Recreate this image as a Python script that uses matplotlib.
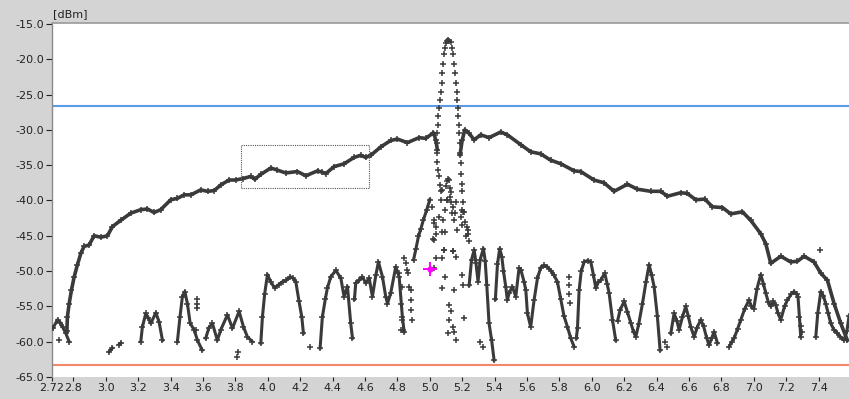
import numpy as np
import matplotlib
matplotlib.use("Agg")
import matplotlib.pyplot as plt
from matplotlib.patches import Rectangle

nan = np.nan

# ---- upper (max-hold) trace, frequency in GHz / level in dBm; NaN splits the trace
upper_x = [2.76, 2.763, 2.774, 2.788, 2.805, 2.825, 2.846, 2.866, 2.897, 2.928, 2.969, 3.01,
           3.041, 3.093, 3.154, 3.216, 3.257, 3.298, 3.339, 3.401, 3.442, 3.484, 3.525, 3.586,
           3.628, 3.669, 3.71, 3.761, 3.802, 3.844, 3.895, 3.92, 3.957, 4.019, 4.06, 4.111,
           4.183, 4.235, 4.307, 4.337, 4.358, 4.409, 4.471, 4.533, 4.574, 4.605, 4.636, 4.698,
           4.759, 4.8, 4.862, 4.934, 4.975, 5.023, 5.037, 5.047,
           nan,
           5.187, 5.2, 5.216, 5.243, 5.274, 5.315, 5.366, 5.438, 5.479, 5.562, 5.623, 5.685,
           5.747, 5.809, 5.891, 5.932, 6.014, 6.076, 6.138, 6.22, 6.282, 6.364, 6.426, 6.467,
           6.549, 6.59, 6.642, 6.698, 6.745, 6.807, 6.858, 6.93, 6.981, 7.043, 7.074, 7.105,
           7.167, 7.228, 7.27, 7.311, 7.372, 7.414, 7.455, 7.496, 7.537, 7.578]
upper_y = [-58.5, -56.5, -54.6, -52.7, -50.8, -49.1, -47.5, -46.5, -46.3, -45.0, -45.2, -45.0,
           -43.7, -42.8, -41.8, -41.3, -41.2, -41.7, -41.3, -39.9, -39.7, -39.2, -39.2, -38.5,
           -38.7, -38.6, -37.8, -37.1, -37.1, -36.9, -36.6, -37.0, -36.3, -35.4, -35.7, -36.1,
           -35.9, -36.5, -35.8, -36.0, -36.2, -35.2, -34.8, -33.9, -33.6, -33.9, -33.6, -32.4,
           -31.5, -31.3, -31.8, -31.1, -31.2, -30.4, -31.4, -32.8,
           nan,
           -33.5, -31.5, -30.0, -30.5, -31.4, -30.7, -31.1, -30.3, -30.7, -32.1, -33.1, -33.4,
           -34.3, -34.8, -35.8, -35.9, -37.1, -37.5, -38.7, -37.7, -38.4, -38.7, -38.7, -39.4,
           -38.9, -39.0, -39.9, -39.8, -40.9, -41.0, -41.9, -41.6, -42.8, -44.7, -46.1, -48.9,
           -47.9, -48.7, -48.6, -47.9, -48.7, -50.3, -51.3, -54.6, -57.4, -59.8]

# ---- lower (live) trace
lower_x = [2.673, 2.702, 2.72, 2.733, 2.753, 2.774, nan,
           3.021, 3.041, nan, 3.082, 3.093, nan,
           3.216, 3.226, 3.247, 3.262, 3.278, 3.309, 3.329, 3.35, nan,
           3.442, 3.458, 3.473, 3.488, 3.504, 3.521, 3.545, 3.566, 3.595, nan,
           3.617, 3.637, 3.658, 3.689, 3.71, 3.751, 3.782, 3.823, 3.85, 3.874, 3.905, nan,
           3.957, 3.967, 3.981, 3.998, 4.02, 4.043, 4.068, 4.091, 4.115, 4.138, 4.156, 4.173,
           4.193, 4.21, 4.22, nan,
           4.323, 4.337, 4.355, 4.368, 4.389, 4.42, 4.451, 4.471, 4.492, 4.512, 4.523, nan,
           4.535, 4.543, 4.565, 4.584, 4.605, 4.626, 4.646, 4.667, 4.683, 4.708, 4.728, 4.739,
           4.759, 4.79, 4.811, 4.831, 4.842, nan,
           4.9, 4.915, 4.93, 4.945, 4.96, 4.98, 5.0, nan,
           5.243, 5.258, 5.274, 5.285, 5.298, 5.311, 5.331, 5.342, 5.352, 5.366, 5.382, 5.397, nan,
           5.405, 5.418, 5.432, 5.445, 5.455, 5.469, 5.479, 5.49, 5.51, 5.531, 5.551, 5.562,
           5.582, 5.593, 5.603, 5.623, 5.644, 5.665, 5.685, 5.706, 5.726, 5.75, 5.767, 5.788,
           5.809, 5.829, 5.85, 5.87, 5.891, nan,
           5.905, 5.912, 5.922, 5.935, 5.953, 5.975, 5.994, 6.01, 6.025, 6.04, 6.055, 6.08,
           6.095, 6.107, 6.128, 6.148, nan,
           6.16, 6.175, 6.2, 6.22, 6.241, 6.258, 6.272, 6.29, 6.313, 6.335, 6.354, 6.37, 6.385,
           6.405, 6.422, nan,
           6.488, 6.508, 6.525, 6.539, 6.56, 6.58, 6.595, 6.611, 6.632, 6.65, 6.673, 6.69, 6.71,
           6.724, 6.74, 6.755, 6.776, nan,
           6.848, 6.865, 6.879, 6.9, 6.92, 6.945, 6.971, 6.985, 7.0, 7.02, 7.043, 7.06, 7.074,
           7.09, 7.105, 7.12, 7.136, 7.15, 7.167, 7.19, 7.208, 7.23, 7.249, 7.265, 7.273, 7.282,
           7.29, nan,
           7.383, 7.395, 7.414, 7.43, 7.444, 7.46, 7.475, 7.495, 7.516, 7.535, 7.557, 7.575, 7.588]
lower_y = [-58.1, -56.9, -57.3, -57.9, -58.8, -60.0, nan,
           -61.4, -60.9, nan, -60.4, -60.2, nan,
           -60.0, -57.9, -56.0, -56.6, -57.4, -55.9, -57.2, -59.8, nan,
           -60.0, -56.5, -53.6, -52.9, -54.6, -57.4, -58.3, -59.8, -61.2, nan,
           -59.5, -58.0, -57.4, -59.8, -58.3, -56.2, -58.1, -55.7, -57.9, -59.3, -60.0, nan,
           -60.2, -56.5, -53.2, -50.5, -51.6, -52.4, -51.9, -51.5, -51.3, -50.8, -51.0, -51.5,
           -54.3, -56.5, -58.8, nan,
           -60.9, -56.5, -54.0, -52.4, -50.8, -49.9, -51.0, -53.6, -52.2, -57.4, -59.5, nan,
           -54.0, -51.7, -51.3, -50.8, -51.7, -51.0, -53.6, -50.6, -48.7, -50.8, -53.6, -54.6,
           -53.1, -49.4, -50.8, -56.5, -58.6, nan,
           -48.4, -46.8, -45.1, -44.0, -42.8, -41.4, -39.9, nan,
           -52.0, -48.4, -47.0, -48.8, -51.5, -48.4, -46.8, -48.5, -52.0, -57.4, -59.8, -62.6, nan,
           -54.0, -49.0, -46.8, -48.0, -50.0, -52.2, -54.1, -53.1, -52.2, -53.6, -49.6, -49.8,
           -51.5, -52.7, -56.0, -57.9, -54.1, -51.0, -49.5, -49.2, -49.4, -50.0, -50.6, -51.5,
           -54.0, -56.4, -57.9, -59.5, -60.7, nan,
           -59.5, -58.0, -52.7, -50.0, -48.7, -48.5, -48.7, -50.5, -52.4, -51.6, -51.3, -50.3,
           -51.8, -53.1, -56.9, -59.8, nan,
           -57.0, -55.5, -54.3, -55.8, -57.4, -58.6, -59.3, -57.5, -54.6, -51.5, -49.1, -50.6, -52.2,
           -56.4, -61.2, nan,
           -58.8, -56.0, -57.0, -58.3, -56.5, -55.0, -56.3, -57.9, -59.3, -58.0, -56.9, -57.8, -59.5,
           -60.5, -59.5, -58.6, -60.2, nan,
           -60.7, -60.0, -59.5, -58.2, -56.9, -55.3, -54.1, -55.0, -55.3, -52.5, -50.5, -51.8, -53.1,
           -54.4, -55.0, -54.3, -54.8, -56.0, -56.9, -55.0, -54.1, -53.3, -52.9, -53.3, -53.6, -56.5,
           -59.3, nan,
           -59.3, -56.0, -52.9, -53.5, -54.6, -56.0, -57.4, -58.3, -58.8, -59.3, -59.8, -58.5, -56.4]

# ---- carrier lobe, sparsely sampled
lobe_x = [5.101, 5.109, 5.115, 5.121, 5.13, 5.093, 5.138,
          5.088, 5.084, 5.078, 5.074, 5.068, 5.064, 5.058, 5.053, 5.051, 5.047, 5.047, 5.047,
          5.047, 5.051, 5.058, 5.064, 5.068,
          5.146, 5.15, 5.154, 5.16, 5.167, 5.171, 5.175, 5.177, 5.181, 5.183, 5.187, 5.187,
          5.191, 5.195, 5.198, 5.202, 5.206, 5.212]
lobe_y = [-17.7, -17.4, -17.3, -17.4, -17.6, -18.4, -18.4,
          -19.2, -20.6, -22.0, -23.4, -24.6, -25.8, -26.9, -28.1, -29.3, -30.5, -31.9, -33.3,
          -34.5, -35.7, -36.6, -37.8, -38.7,
          -19.2, -20.6, -22.0, -23.4, -24.6, -25.8, -26.9, -28.1, -29.3, -30.5, -31.9, -33.3,
          -34.7, -36.2, -37.6, -38.7, -40.2, -41.6]

# ---- scattered samples around the carrier
spread_x = [5.016, 5.027, 5.023, 5.037, 5.058, 5.068, 5.078, 5.099, 5.105, 5.093, 5.084, 5.093,
            5.109, 5.119, 5.126, 5.134, 5.146, 5.14, 5.154, 5.16, 5.15, 5.171, 5.191, 5.208,
            5.216, 5.228, 5.233, 5.222, 5.037, 5.027, 5.088, 5.146, 5.16, 5.093, 5.078, 5.15,
            5.202, 5.208, 5.119, 5.134, 5.119, 5.146, 5.115, 5.16, 5.15, 5.212, 5.311, 5.331,
            5.027, 5.037, 5.078, 5.027, 5.088, 5.078, 5.2, 5.237, 5.243, 5.146, 5.2, 5.111,
            5.126, 5.105, 5.13,
            4.852, 4.866, 4.872, 4.883, 4.887, 4.893, 4.831, 4.825, 4.831, 4.837, 4.811, 4.821,
            4.862, 4.842, 4.883,
            2.712, 3.566, 3.566, 3.566, 3.813, 3.818, 4.261, 6.467, 5.86, 5.86, 5.862, 5.866,
            3.56, 6.45, 7.41, 7.29, 7.296]
spread_y = [-40.9, -42.8, -45.4, -43.7, -42.3, -39.9, -38.5, -38.0, -39.9, -41.3, -42.8, -44.4,
            -37.3, -37.1, -38.3, -40.2, -40.9, -41.8, -41.8, -40.2, -42.8, -44.2, -42.3, -41.6,
            -43.0, -43.7, -44.7, -45.1, -48.2, -49.6, -47.0, -47.2, -48.0, -50.8, -52.4, -52.7,
            -50.6, -52.0, -54.8, -55.7, -56.9, -57.9, -58.8, -59.8, -58.6, -56.7, -60.0, -60.7,
            -43.2, -44.7, -44.4, -45.6, -47.0, -48.2, -41.3, -44.2, -45.8, -47.2, -43.5, -36.9,
            -39.5, -39.9, -38.8,
            -48.9, -50.3, -52.2, -54.1, -55.5, -56.9, -52.2, -54.6, -56.9, -58.3, -50.3, -58.3,
            -49.8, -48.2, -52.7,
            -59.8, -54.0, -54.6, -55.2, -62.1, -61.5, -60.7, -60.7, -50.8, -52.0, -53.3, -54.5,
            -58.3, -60.0, -47.0, -57.8, -58.6]

# ---- marker, limit lines, zoom window
marker_x, marker_y = 5.0, -49.75
upper_limit = -26.6
lower_limit = -63.3
zoom_box = (3.835, 4.627, -38.2, -32.2)   # x0, x1, y0, y1

yticks = [-15.0, -20.0, -25.0, -30.0, -35.0, -40.0, -45.0, -50.0, -55.0, -60.0, -65.0]
xticks = [2.8, 3.0, 3.2, 3.4, 3.6, 3.8, 4.0, 4.2, 4.4, 4.6, 4.8, 5.0, 5.2, 5.4, 5.6, 5.8,
          6.0, 6.2, 6.4, 6.6, 6.8, 7.0, 7.2, 7.4]
x_start_label = "2.72"
unit_label = "[dBm]"

x_min, x_max = 2.668, 7.588
y_min, y_max = -65.0, -14.79

BG = "#d4d4d4"
TRACE = "#3a3a3a"

plt.rcParams["font.family"] = ["DejaVu Sans"]
fig = plt.figure(figsize=(8.49, 3.99), dpi=100, facecolor=BG)
ax = fig.add_axes([52 / 849, 22 / 399, 797 / 849, 354.5 / 399])
ax.set_facecolor("white")
ax.set_xlim(x_min, x_max)
ax.set_ylim(y_min, y_max)

ax.axhline(upper_limit, color="#5a9be6", lw=1.5, zorder=2)
ax.axhline(lower_limit, color="#f28a6a", lw=1.5, zorder=2)

ax.plot(upper_x, upper_y, color=TRACE, lw=2.6, marker="+", ms=4, mew=1.1,
        solid_joinstyle="round", zorder=3)
ax.plot(lower_x, lower_y, color=TRACE, lw=2.2, marker="+", ms=4, mew=1.1,
        solid_joinstyle="round", zorder=3)
ax.plot(lobe_x, lobe_y, ls="none", color=TRACE, marker="+", ms=4, mew=1.1, zorder=3)
ax.plot(spread_x, spread_y, ls="none", color=TRACE, marker="+", ms=4, mew=1.1, zorder=3)

x0, x1, y0, y1 = zoom_box
ax.add_patch(Rectangle((x0, y0), x1 - x0, y1 - y0, fill=False, ec="#555555",
                       lw=0.8, ls=(0, (1, 1)), zorder=4))

ax.plot([marker_x], [marker_y], marker="+", ms=10, mew=1.4, color="#ff00ff", zorder=5)
ax.plot([marker_x], [marker_y], marker="o", ms=4.5, mew=0, color="#ff00ff", zorder=5)

ax.set_yticks(yticks)
ax.set_yticklabels([f"{v:.1f}" for v in yticks])
ax.set_xticks([x_min] + xticks)
ax.set_xticklabels([x_start_label] + [f"{v:.1f}" for v in xticks])
ax.tick_params(axis="y", length=4, width=0.8, pad=1.5, labelsize=8, colors="#222222")
ax.tick_params(axis="x", length=3, width=0.8, pad=1.0, labelsize=8, colors="#222222")

for side in ("bottom", "right"):
    ax.spines[side].set_visible(False)
ax.spines["left"].set_color("#8a8a8a")
ax.spines["top"].set_color("#9a9a9a")
ax.spines["left"].set_linewidth(1.0)
ax.spines["top"].set_linewidth(1.2)

fig.text(53 / 849, 1 - 14 / 399, unit_label, fontsize=8, color="#222222",
         ha="left", va="center")

fig.savefig("out.png", dpi=100, facecolor=BG)
